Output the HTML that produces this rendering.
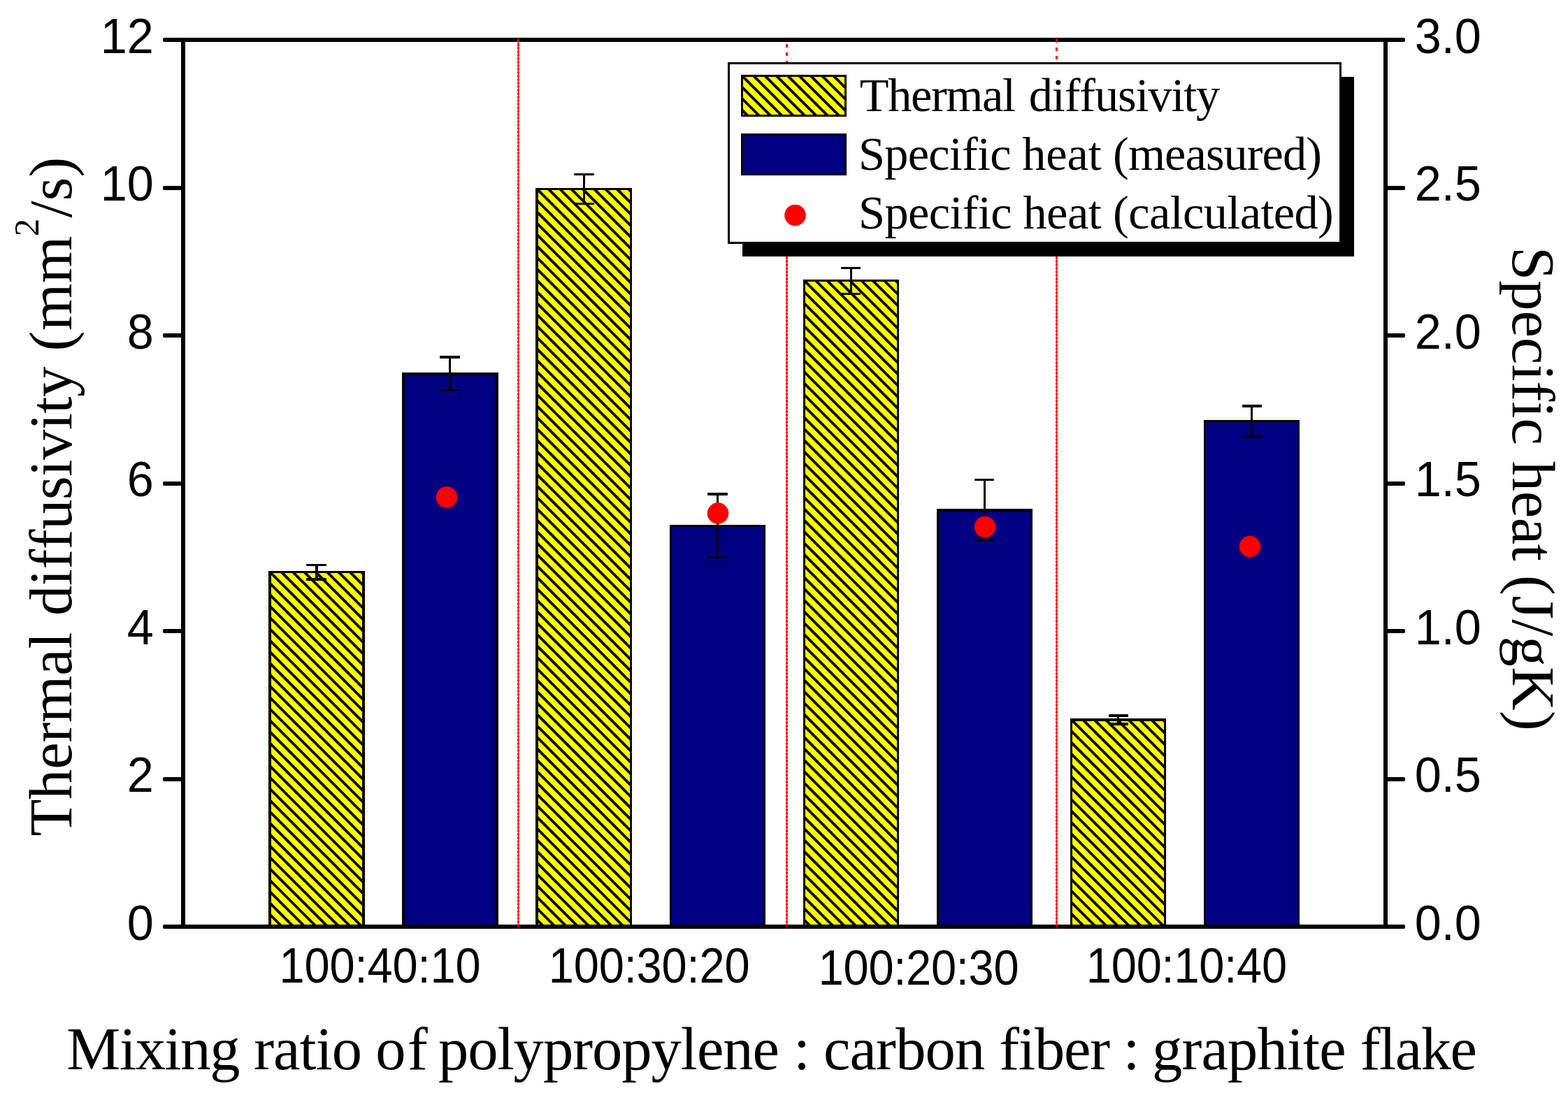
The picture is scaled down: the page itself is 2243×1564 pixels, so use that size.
<!DOCTYPE html>
<html lang="en"><head><meta charset="utf-8"><title>Thermal diffusivity and specific heat</title>
<style>
html,body{margin:0;padding:0;background:#fff;}
body{width:2243px;height:1564px;overflow:hidden;}
svg{display:block;}
text{font-kerning:none;font-variant-ligatures:none;white-space:pre;}
.sans{font-family:"Liberation Sans",Arial,Helvetica,sans-serif;fill:#000;}
.serif{font-family:"Liberation Serif","Times New Roman",Times,serif;fill:#000;}
</style></head><body>
<svg width="2243" height="1564" viewBox="0 0 2243 1564">
<rect x="0" y="0" width="2243" height="1564" fill="#fff"/>
<defs>
<pattern id="h0" patternUnits="userSpaceOnUse" width="40" height="11.5541" patternTransform="translate(386.20 818.50) rotate(45)">
<rect x="0" y="0" width="40" height="11.5541" fill="#ffff00"/>
<rect x="0" y="0" width="40" height="1.900" fill="#000"/>
<rect x="0" y="9.6541" width="40" height="1.910" fill="#000"/>
</pattern>
<pattern id="h2" patternUnits="userSpaceOnUse" width="40" height="11.5541" patternTransform="translate(768.20 270.50) rotate(45)">
<rect x="0" y="0" width="40" height="11.5541" fill="#ffff00"/>
<rect x="0" y="0" width="40" height="1.900" fill="#000"/>
<rect x="0" y="9.6541" width="40" height="1.910" fill="#000"/>
</pattern>
<pattern id="h4" patternUnits="userSpaceOnUse" width="40" height="11.5541" patternTransform="translate(1150.50 401.50) rotate(45)">
<rect x="0" y="0" width="40" height="11.5541" fill="#ffff00"/>
<rect x="0" y="0" width="40" height="1.900" fill="#000"/>
<rect x="0" y="9.6541" width="40" height="1.910" fill="#000"/>
</pattern>
<pattern id="h6" patternUnits="userSpaceOnUse" width="40" height="11.5541" patternTransform="translate(1532.30 1029.50) rotate(45)">
<rect x="0" y="0" width="40" height="11.5541" fill="#ffff00"/>
<rect x="0" y="0" width="40" height="1.900" fill="#000"/>
<rect x="0" y="9.6541" width="40" height="1.910" fill="#000"/>
</pattern>
<pattern id="hl" patternUnits="userSpaceOnUse" width="40" height="11.5541" patternTransform="translate(1061.60 108.50) rotate(45)">
<rect x="0" y="0" width="40" height="11.5541" fill="#ffff00"/>
<rect x="0" y="0" width="40" height="1.900" fill="#000"/>
<rect x="0" y="9.6541" width="40" height="1.910" fill="#000"/>
</pattern>
</defs>
<g id="bars">
<rect x="384" y="817" width="138" height="509" fill="#000"/>
<rect x="388" y="820" width="130" height="506" fill="url(#h0)"/>
<rect x="575" y="533" width="138" height="793" fill="#000"/>
<rect x="579" y="537" width="130" height="789" fill="#000080"/>
<rect x="766" y="269" width="138" height="1057" fill="#000"/>
<rect x="770" y="272" width="131" height="1054" fill="url(#h2)"/>
<rect x="958" y="751" width="137" height="575" fill="#000"/>
<rect x="961" y="754" width="131" height="572" fill="#000080"/>
<rect x="1149" y="400" width="137" height="926" fill="#000"/>
<rect x="1152" y="403" width="131" height="923" fill="url(#h4)"/>
<rect x="1340" y="728" width="137" height="598" fill="#000"/>
<rect x="1343" y="732" width="131" height="594" fill="#000080"/>
<rect x="1531" y="1028" width="137" height="298" fill="#000"/>
<rect x="1534" y="1032" width="131" height="294" fill="url(#h6)"/>
<rect x="1722" y="601" width="137" height="725" fill="#000"/>
<rect x="1725" y="604" width="131" height="722" fill="#000080"/>
</g>
<g id="errorbars" fill="#000">
<rect x="451" y="807" width="4" height="24"/>
<rect x="438" y="807" width="29" height="3" rx="1"/>
<rect x="438" y="827" width="29" height="4" rx="1"/>
<rect x="642" y="509" width="3" height="51"/>
<rect x="629" y="509" width="29" height="4" rx="1"/>
<rect x="629" y="557" width="29" height="3" rx="1"/>
<rect x="834" y="248" width="3" height="45"/>
<rect x="821" y="248" width="29" height="3" rx="1"/>
<rect x="821" y="290" width="29" height="3" rx="1"/>
<rect x="1025" y="705" width="3" height="94"/>
<rect x="1012" y="705" width="29" height="4" rx="1"/>
<rect x="1012" y="796" width="29" height="3" rx="1"/>
<rect x="1216" y="382" width="3" height="40"/>
<rect x="1203" y="382" width="28" height="3" rx="1"/>
<rect x="1203" y="419" width="28" height="3" rx="1"/>
<rect x="1407" y="685" width="3" height="90"/>
<rect x="1394" y="685" width="28" height="3" rx="1"/>
<rect x="1394" y="771" width="28" height="4" rx="1"/>
<rect x="1598" y="1022" width="3" height="16"/>
<rect x="1586" y="1022" width="28" height="4" rx="1"/>
<rect x="1586" y="1034" width="28" height="4" rx="1"/>
<rect x="1789" y="579" width="3" height="47"/>
<rect x="1777" y="579" width="28" height="4" rx="1"/>
<rect x="1777" y="623" width="28" height="3" rx="1"/>
</g>
<g id="calc" fill="#ff0000">
<circle cx="639" cy="711.5" r="15.3"/>
<circle cx="1027" cy="734.5" r="15.3"/>
<circle cx="1409" cy="754" r="15.3"/>
<circle cx="1788" cy="782" r="15.3"/>
</g>
<g id="frame" fill="#000">
<rect x="233" y="54" width="1777" height="6" rx="2"/>
<rect x="233" y="1323" width="1777" height="6" rx="2"/>
<rect x="259" y="54" width="6" height="1275"/>
<rect x="1979" y="54" width="6" height="1275"/>
<rect x="233" y="266" width="29" height="6" rx="2"/>
<rect x="1982" y="266" width="28" height="6" rx="2"/>
<rect x="233" y="477" width="29" height="6" rx="2"/>
<rect x="1982" y="477" width="28" height="6" rx="2"/>
<rect x="233" y="689" width="29" height="6" rx="2"/>
<rect x="1982" y="689" width="28" height="6" rx="2"/>
<rect x="233" y="900" width="29" height="6" rx="2"/>
<rect x="1982" y="900" width="28" height="6" rx="2"/>
<rect x="233" y="1112" width="29" height="6" rx="2"/>
<rect x="1982" y="1112" width="28" height="6" rx="2"/>
</g>
<g id="separators" stroke="#ff0000" fill="none">
<line x1="741.5" y1="57.2" x2="741.5" y2="1328" stroke-width="3" stroke-dasharray="3.5 1.5"/>
<line x1="741.5" y1="60" x2="741.5" y2="1323" stroke-width="1"/>
<line x1="741.5" y1="56" x2="741.5" y2="58" stroke-width="3"/>
<line x1="1125.5" y1="62.2" x2="1125.5" y2="1328" stroke-width="3" stroke-dasharray="3.5 1.5"/>
<line x1="1125.5" y1="60" x2="1125.5" y2="1323" stroke-width="1"/>
<line x1="1511.5" y1="57.2" x2="1511.5" y2="1328" stroke-width="3" stroke-dasharray="3.5 1.5"/>
<line x1="1511.5" y1="60" x2="1511.5" y2="1323" stroke-width="1"/>
<line x1="1511.5" y1="56" x2="1511.5" y2="58" stroke-width="3"/>
</g>
<g id="legend">
<rect x="1124" y="60" width="3" height="29" fill="#fff"/>
<rect x="1124" y="63" width="3" height="5" fill="#ff0000"/>
<rect x="1124" y="75" width="3" height="5" fill="#ff0000"/>
<rect x="1124" y="87" width="3" height="2" fill="#ff0000"/>
<rect x="1510" y="61" width="3" height="28" fill="#fff"/>
<rect x="1510" y="68" width="3" height="5" fill="#ff0000"/>
<rect x="1510" y="80" width="3" height="5" fill="#ff0000"/>
<rect x="1062" y="110" width="875" height="257" fill="#000"/>
<rect x="1042.5" y="90.5" width="875" height="257" fill="#fff" stroke="#000" stroke-width="3"/>
<rect x="1060" y="107" width="151" height="60" fill="#000"/>
<rect x="1063" y="110" width="145" height="54" fill="url(#hl)"/>
<rect x="1060" y="191" width="151" height="60" fill="#000"/>
<rect x="1063" y="194" width="145" height="54" fill="#000080"/>
<circle cx="1137.5" cy="308" r="15.3" fill="#ff0000"/>
<g class="serif">
<text y="159.3" font-size="68.3"><tspan x="1229.77" style="letter-spacing:-1.341px">Thermal</tspan> <tspan x="1471.83" style="letter-spacing:-1.114px">diffusivity</tspan></text>
<text y="243.1" font-size="68.3"><tspan x="1228.03" style="letter-spacing:-0.744px">Specific</tspan> <tspan x="1462.33" style="letter-spacing:-0.129px">heat</tspan> <tspan x="1592.10" style="letter-spacing:-0.920px">(measured)</tspan></text>
<text y="327.2" font-size="68.3"><tspan x="1228.03" style="letter-spacing:-0.587px">Specific</tspan> <tspan x="1463.43" style="letter-spacing:-0.496px">heat</tspan> <tspan x="1592.10" style="letter-spacing:-0.599px">(calculated)</tspan></text>
</g>
</g>
<g id="yticks-left" class="sans" font-size="68.4" text-anchor="end">
<text transform="translate(219.7 75.9) scale(1 1.04)">12</text>
<text transform="translate(219.7 287.4) scale(1 1.04)">10</text>
<text transform="translate(219.7 498.9) scale(1 1.04)">8</text>
<text transform="translate(219.7 710.4) scale(1 1.04)">6</text>
<text transform="translate(219.7 921.9) scale(1 1.04)">4</text>
<text transform="translate(219.7 1133.4) scale(1 1.04)">2</text>
<text transform="translate(219.7 1344.9) scale(1 1.04)">0</text>
</g>
<g id="yticks-right" class="sans" font-size="68.4" text-anchor="start">
<text transform="translate(2023.7 75.9) scale(1 1.04)">3.0</text>
<text transform="translate(2023.7 287.4) scale(1 1.04)">2.5</text>
<text transform="translate(2023.7 498.9) scale(1 1.04)">2.0</text>
<text transform="translate(2023.7 710.4) scale(1 1.04)">1.5</text>
<text transform="translate(2023.7 921.9) scale(1 1.04)">1.0</text>
<text transform="translate(2023.7 1133.4) scale(1 1.04)">0.5</text>
<text transform="translate(2023.7 1344.9) scale(1 1.04)">0.0</text>
</g>
<g id="xticks" class="sans">
<text transform="translate(399.45 1405.8) scale(1 1.089)" font-size="65.0" style="letter-spacing:-0.110px">100:40:10</text>
<text transform="translate(784.65 1405.8) scale(1 1.089)" font-size="65.0" style="letter-spacing:-0.135px">100:30:20</text>
<text transform="translate(1170.65 1409.3) scale(1 1.089)" font-size="65.0" style="letter-spacing:-0.272px">100:20:30</text>
<text transform="translate(1553.85 1406.3) scale(1 1.089)" font-size="65.0" style="letter-spacing:-0.222px">100:10:40</text>
</g>
<g id="titles" class="serif">
<text y="1530.0" font-size="86.5"><tspan x="95.31" style="letter-spacing:-1.298px">Mixing</tspan> <tspan x="363.27" style="letter-spacing:-0.947px">ratio</tspan> <tspan x="537.21" style="letter-spacing:2.539px">of</tspan> <tspan x="627.01" style="letter-spacing:-0.972px">polypropylene</tspan> <tspan x="1134.96" style="letter-spacing:0.000px">:</tspan> <tspan x="1177.91" style="letter-spacing:-0.787px">carbon</tspan> <tspan x="1429.34" style="letter-spacing:-1.141px">fiber</tspan> <tspan x="1606.56" style="letter-spacing:0.000px">:</tspan> <tspan x="1648.08" style="letter-spacing:-0.827px">graphite</tspan> <tspan x="1945.74" style="letter-spacing:-1.428px">flake</tspan></text>
<g transform="translate(102.0 1195.0) rotate(-90)">
<text y="0" font-size="86.5"><tspan x="-1.56" style="letter-spacing:-0.166px">Thermal</tspan> <tspan x="313.97" style="letter-spacing:-0.404px">diffusivity</tspan> <tspan x="692.50" style="letter-spacing:0.691px">(mm</tspan><tspan x="856.66" y="-47.2" font-size="50.9">2</tspan><tspan x="883.50" y="0" style="letter-spacing:0.101px">/s)</tspan></text>
</g>
<g transform="translate(2163.5 358.9) rotate(90)">
<text y="0" font-size="86.5"><tspan x="-5.79" style="letter-spacing:0.049px">Specific</tspan> <tspan x="300.96" style="letter-spacing:-0.339px">heat</tspan> <tspan x="464.10" style="letter-spacing:0.356px">(J/gK)</tspan></text>
</g>
</g>
</svg>
</body></html>
